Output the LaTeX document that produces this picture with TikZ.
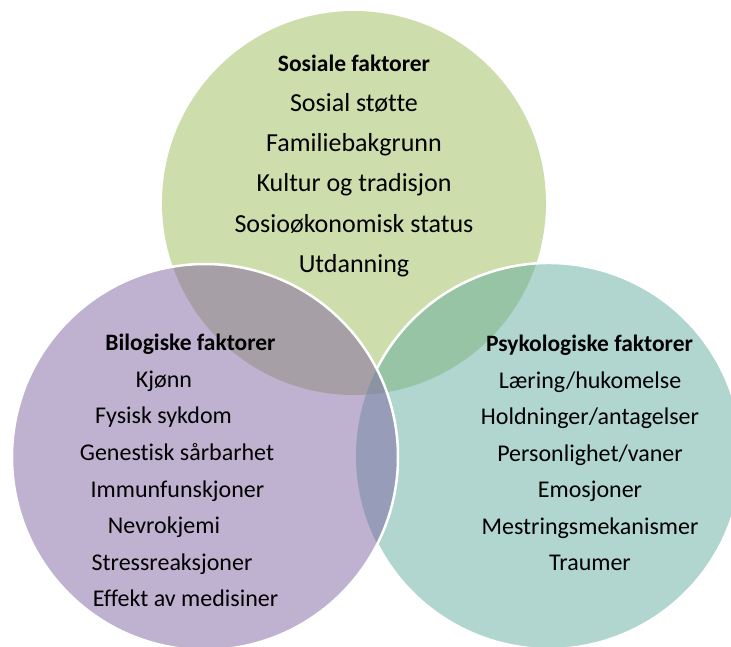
\documentclass[tikz,border=0pt]{standalone}
\usepackage{fontspec}
\setmainfont{Carlito}[RawFeature={-liga;-clig;-dlig;-calt;-rlig}]
\definecolor{sosgreen}{HTML}{9BBB59}
\definecolor{biopurple}{HTML}{8064A2}
\definecolor{psyteal}{HTML}{61AD9F}
\tikzset{
  venn/.style={fill opacity=0.5},
  rim/.style={draw=white,line width=2.5pt},
  heading/.style={anchor=base,text=black,font=\fontsize{23.5}{28}\selectfont\bfseries},
  factor/.style={anchor=base,text=black,font=\fontsize{24}{28}\selectfont},
  bigfactor/.style={factor,font=\fontsize{26}{30}\selectfont},
}
\begin{document}
\begin{tikzpicture}[x=1pt,y=1pt]
  \useasboundingbox (0,0) rectangle (731,-646);
  % de tre sirklene
  \fill[sosgreen,venn] (354,-203) circle(192);
  \fill[psyteal,venn] (549,-456) circle(193);
  \fill[biopurple,venn] (205,-457) circle(193);
  % hvite kanter (hoyre kant skjult under lilla)
  \draw[rim] (549,-456) ++(-153:193) arc[start angle=-153,end angle=153,radius=193];
  \draw[rim] (205,-457) circle(193);
  % sosiale faktorer
  \node[heading] (sos) at (354,-71){Sosiale faktorer};
  \foreach \t [count=\i] in {Sosial støtte,Familiebakgrunn,Kultur og tradisjon,Sosioøkonomisk status,Utdanning}
    \node[bigfactor] (sos\i) at (354,{-71-40.3*\i}){\t};
  % biologiske faktorer
  \node[heading] (bio) at (190.5,-350.7){Bilogiske faktorer};
  \foreach \x/\t [count=\i] in {164/Kjønn,163.5/Fysisk sykdom,177/Genestisk sårbarhet,177.5/Immunfunskjoner,164/Nevrokjemi,172/Stressreaksjoner,185.5/Effekt av medisiner}
    \node[factor] (bio\i) at (\x,{-350.7-36.6*\i}){\t};
  % psykologiske faktorer
  \node[heading] (psy) at (589.5,-351.7){Psykologiske faktorer};
  \foreach \t [count=\i] in {Læring/hukomelse,Holdninger/antagelser,Personlighet/vaner,Emosjoner,Mestringsmekanismer,Traumer}
    \node[factor] (psy\i) at (590,{-351.7-36.5*\i}){\t};
\end{tikzpicture}
\end{document}
